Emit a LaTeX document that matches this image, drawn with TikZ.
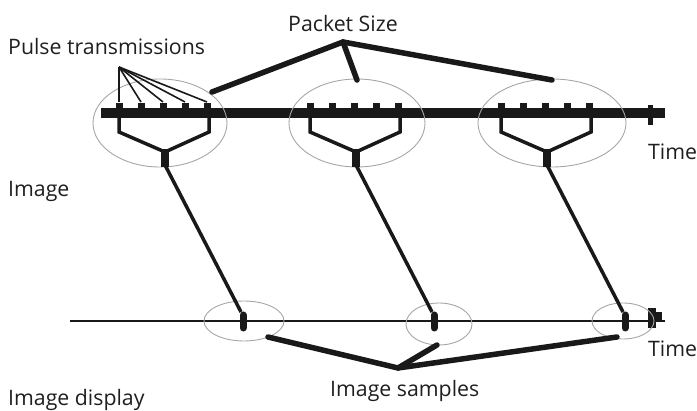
\documentclass[tikz,border=0pt]{standalone}
\usepackage{fontspec}
\setmainfont{Open Sans}
\usetikzlibrary{positioning}
\tikzset{
	lbl/.style={font=\fontsize{21.3}{24}\selectfont, text=black!88, inner sep=0pt, anchor=base west},
	halo/.style={draw=black!35, line width=0.9pt},
	bar/.style={line width=10pt, black!90},
	axis/.style={line width=1.6pt, black!90},
	fork/.style={line width=3.5pt, black!90, line join=miter},
	link/.style={line width=3.5pt, black!90},
	pointer/.style={line width=5.5pt, black!90, line cap=round},
	thin/.style={line width=1.6pt, black!90},
	sample/.style={line width=7pt, black!90, line cap=round},
}

\begin{document}
\begin{tikzpicture}[x=1pt, y=-1pt]
	\useasboundingbox (0,0) rectangle (697,411);
	
	% time axes
	\draw[bar] (101,113) -- (665,113);
	\fill[black!90] (648,105) rectangle (653,125);
	\draw[axis] (70,321) -- (665,321);
	\fill[black!90] (648,308) rectangle (656,328);
	\fill[black!90] (656,312) rectangle (662,320);
	
	% pulse packets
	\foreach \c/\ex/\rx [count=\i] in {163/160/67, 354/357/68, 545/552/74} {
		\draw[halo] (\ex,123) ellipse (\rx pt and 44pt);
		\foreach \d in {-44,-22,0,22,44}
			\fill[black!90] (\c+\d-3.5,103) rectangle (\c+\d+3.5,109);
		\draw[fork] (\c-44,114) -- (\c-44,132) -- (\c+2,152) -- (\c+46,132) -- (\c+46,114);
		\fill[black!90] (\c-2,149) rectangle (\c+6,167);
		\coordinate (s\i) at (\c+2,165);
	}
	
	% image samples
	\draw[halo] (244,321) ellipse (40pt and 20pt);
	\draw[halo] (439,324) ellipse (33pt and 21pt);
	\draw[halo] (623,321) ellipse (31pt and 18pt);
	\foreach \b [count=\i] in {243,434,625} {
		\draw[sample] (\b,315) -- (\b,328);
		\coordinate (b\i) at (\b-2,312);
	}
	
	\foreach \i in {1,2,3}
		\draw[link] (s\i) -- (b\i);
	
	% labels
	\node[lbl] (pulse) at (8,55) {Pulse transmissions};
	\node[lbl] (packet) at (288,32) {Packet Size};
	\node[lbl] (time1) at (648,160) {Time};
	\node[lbl] (image) at (8,197) {Image};
	\node[lbl] (time2) at (648,357) {Time};
	\node[lbl] (samples) at (330,397) {Image samples};
	\node[lbl] (display) at (8,406) {Image display};
	
	% pointers
	\coordinate (pa) at (119,67);
	\foreach \d in {-44,-22,0,22,44}
		\draw[thin] (pa) -- (163+\d,102);
	
	\coordinate (ka) at (343,42);
	\draw[pointer] (212,92) -- (ka) -- (552,80);
	\draw[pointer] (ka) -- (357,80);
	
	\coordinate (ia) at (398,368);
	\draw[pointer] (268,337) -- (ia) -- (617,337);
	\draw[pointer] (ia) -- (437,345);
\end{tikzpicture}
\end{document}
